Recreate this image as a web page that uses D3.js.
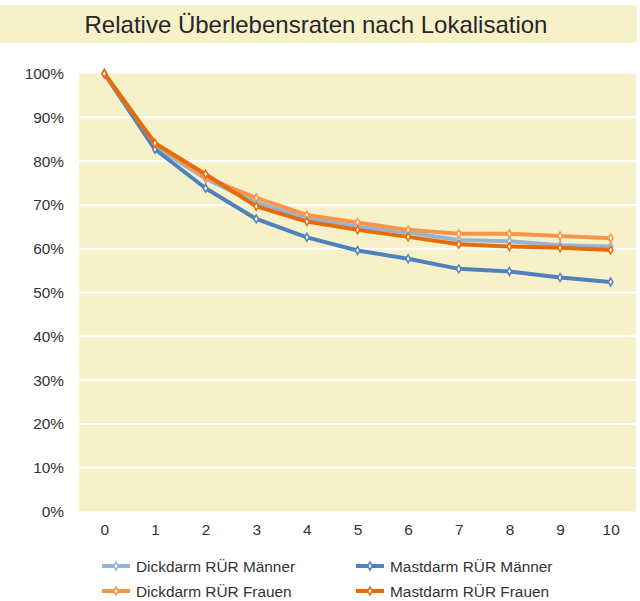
<!DOCTYPE html>
<html><head><meta charset="utf-8">
<script src="https://cdn.jsdelivr.net/npm/d3@7"></script>
<style>body{margin:0;background:#fff;}svg{display:block;font-family:"Liberation Sans",Arial,sans-serif;}</style>
</head><body>
<svg id="chart" width="640" height="601"></svg>
<script>
const title = "Relative Überlebensraten nach Lokalisation";
const years = [0,1,2,3,4,5,6,7,8,9,10];
const yTicks = [0,10,20,30,40,50,60,70,80,90,100];
const seriesNames = ["Dickdarm RÜR Männer","Mastdarm RÜR Männer","Dickdarm RÜR Frauen","Mastdarm RÜR Frauen"];
const dickdarmMaenner = [100,83.3,76.0,70.5,67.0,65.0,63.7,62.0,61.7,60.8,60.5];
const mastdarmMaenner = [100,82.7,73.8,66.8,62.6,59.6,57.7,55.4,54.8,53.4,52.4];
const dickdarmFrauen  = [100,84.0,76.3,71.6,67.7,66.0,64.3,63.4,63.4,62.9,62.4];
const mastdarmFrauen  = [100,84.1,77.0,69.7,66.2,64.3,62.7,61.0,60.5,60.2,59.7];
const colors = ["#95b3d7","#4f81bd","#f79646","#e46c0a"];

(function(){
const svg = d3.select("#chart");
const bg = "#f7f1c9";
const fs = 15.4;
svg.append("rect").attr("x",0).attr("y",5).attr("width",637).attr("height",38).attr("fill",bg);
svg.append("text").attr("x",316).attr("y",32.5).attr("text-anchor","middle")
  .attr("font-size",24).attr("fill","#262626").text(title);

const pL=79, pR=636, pT=73.5, pB=511.5;
const x = d3.scalePoint().domain(years).range([pL,pR]).padding(0.5);
const y = d3.scaleLinear().domain([0,100]).range([pB,pT]);

svg.append("rect").attr("x",pL).attr("y",pT).attr("width",pR-pL).attr("height",pB-pT).attr("fill",bg);
svg.append("g").selectAll("line").data(yTicks.filter(d=>d>0&&d<100)).join("line")
  .attr("x1",pL).attr("x2",pR).attr("y1",d=>y(d)).attr("y2",d=>y(d))
  .attr("stroke","#fff").attr("stroke-width",2);

const yAxis = svg.append("g").attr("transform",`translate(${pL},0)`)
  .call(d3.axisLeft(y).tickValues(yTicks).tickFormat(d=>d+"%").tickSize(0).tickPadding(15));
yAxis.select(".domain").remove();
yAxis.selectAll("text").attr("font-size",fs).attr("fill","#333").attr("font-family","Liberation Sans, Arial, sans-serif");

const xAxis = svg.append("g").attr("transform",`translate(0,${pB})`)
  .call(d3.axisBottom(x).tickSize(0).tickPadding(13));
xAxis.select(".domain").remove();
xAxis.selectAll("text").attr("font-size",fs).attr("fill","#333").attr("font-family","Liberation Sans, Arial, sans-serif");

const allSeries = [dickdarmMaenner, mastdarmMaenner, dickdarmFrauen, mastdarmFrauen];
const line = d3.line().x((d,i)=>x(years[i])).y(d=>y(d));
const diamond = d3.symbol().type(d3.symbolDiamond).size(18);

allSeries.forEach((s,k)=>{
  svg.append("path").datum(s).attr("d",line).attr("fill","none")
    .attr("stroke",colors[k]).attr("stroke-width",4).attr("stroke-linejoin","round");
  svg.append("g").selectAll("path").data(s).join("path")
    .attr("d",diamond).attr("transform",(d,i)=>`translate(${x(years[i])},${y(d)})`)
    .attr("fill","#fff").attr("stroke",colors[k]).attr("stroke-width",1.5);
});

const legendPos = [[102,566],[356,566],[102,591],[356,591]];
seriesNames.forEach((name,k)=>{
  const [lx,ly] = legendPos[k];
  const g = svg.append("g").attr("transform",`translate(${lx},${ly})`);
  g.append("line").attr("x1",0).attr("x2",28).attr("y1",0).attr("y2",0).attr("stroke",colors[k]).attr("stroke-width",4);
  g.append("path").attr("d",diamond).attr("transform","translate(14,0)").attr("fill","#fff").attr("stroke",colors[k]).attr("stroke-width",1.5);
  g.append("text").attr("x",34).attr("y",5.5).attr("font-size",fs).attr("fill","#333").text(name);
});
})();
</script>
</body></html>
